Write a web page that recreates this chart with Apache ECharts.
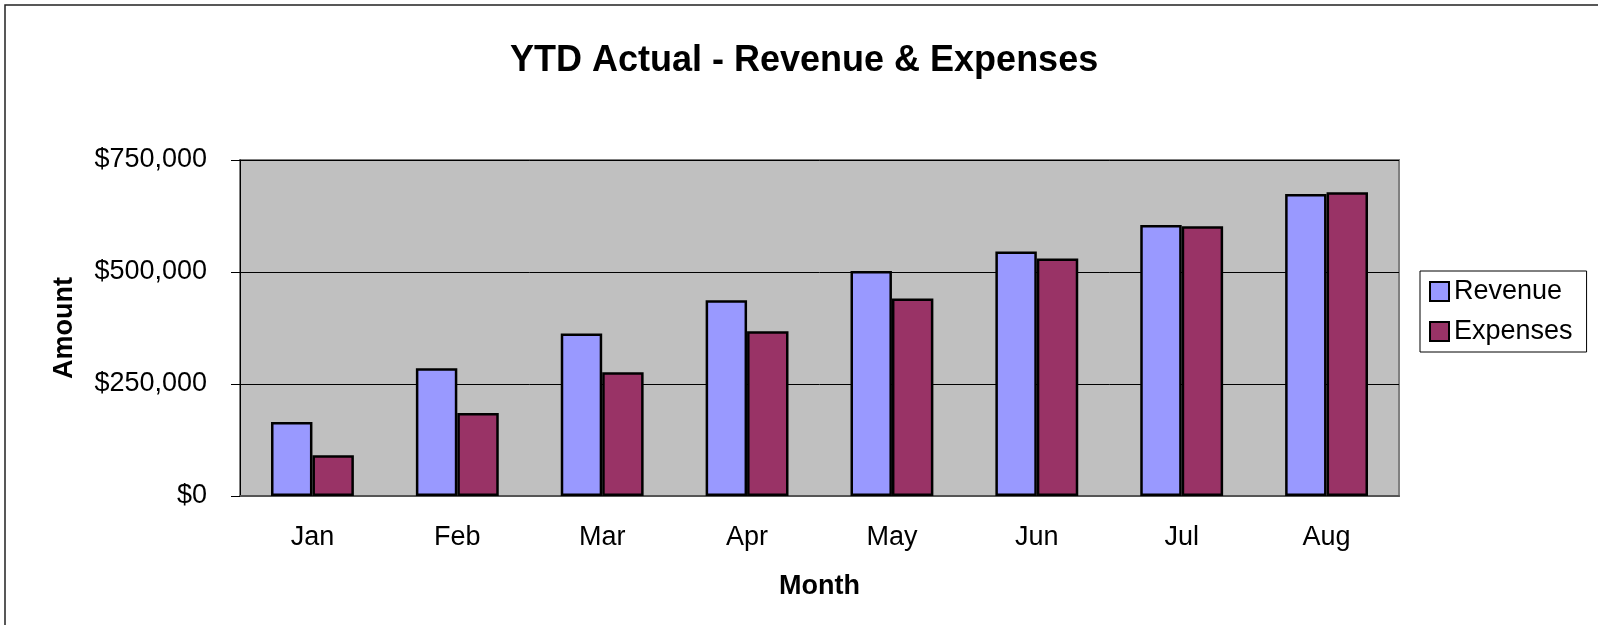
<!DOCTYPE html>
<html>
<head>
<meta charset="utf-8">
<script src="https://cdn.jsdelivr.net/npm/echarts@6/dist/echarts.min.js"></script>
<style>
  html, body { margin: 0; padding: 0; background: #fff; }
  #main { width: 1598px; height: 625px; }
</style>
</head>
<body>
<div id="main"></div>
<script>
const months = ["Jan", "Feb", "Mar", "Apr", "May", "Jun", "Jul", "Aug"];
const revenue = [165000, 285000, 363000, 437000, 502000, 546000, 605000, 674000];
const expenses = [91000, 185000, 276000, 368000, 441000, 530000, 602000, 678000];
const font = "'Liberation Sans', Arial, sans-serif";

const chart = echarts.init(document.getElementById("main"));

const option = {
  backgroundColor: "#fff",
  animation: false,
  title: {
    text: "YTD Actual - Revenue & Expenses",
    left: 510,
    top: 43,
    padding: 0,
    textStyle: { fontFamily: font, fontSize: 36, fontWeight: "bold", color: "#000" },
  },
  graphic: [
    {
      type: "rect",
      shape: { x: 5, y: 5, width: 1620, height: 640 },
      style: { fill: "none", stroke: "#222", lineWidth: 1.5 },
      silent: true,
    },
  ],
  legend: {
    orient: "vertical",
    left: 1420,
    top: 271,
    padding: [7, 14, 7, 9],
    itemGap: 13,
    itemWidth: 19,
    itemHeight: 19,
    icon: "rect",
    borderColor: "#000",
    borderWidth: 1,
    textStyle: { fontFamily: font, fontSize: 27, color: "#000" },
    data: ["Revenue", "Expenses"],
  },
  grid: {
    left: 240,
    top: 160,
    right: 199,
    bottom: 129,
    show: true,
    backgroundColor: "#C0C0C0",
    borderColor: "#808080",
    borderWidth: 2,
  },
  xAxis: {
    type: "category",
    data: months,
    name: "Month",
    nameLocation: "middle",
    nameGap: 77,
    nameTextStyle: { fontFamily: font, fontSize: 27, fontWeight: "bold", color: "#000" },
    axisLine: { lineStyle: { color: "#555", width: 2 } },
    axisTick: { length: 9, lineStyle: { color: "#000", width: 1 } },
    axisLabel: { margin: 28, fontFamily: font, fontSize: 27, color: "#000" },
  },
  yAxis: {
    type: "value",
    min: 0,
    max: 750000,
    interval: 250000,
    name: "Amount",
    nameLocation: "middle",
    nameRotate: 90,
    nameGap: 162,
    nameTextStyle: { fontFamily: font, fontSize: 27, fontWeight: "bold", color: "#000" },
    axisLine: { show: true, lineStyle: { color: "#000", width: 1 } },
    axisTick: { show: true, length: 9, lineStyle: { color: "#000", width: 1 } },
    axisLabel: {
      margin: 33,
      padding: [5, 0, 0, 0],
      fontFamily: font,
      fontSize: 27,
      color: "#000",
      formatter: (v) => "$" + v.toLocaleString("en-US"),
    },
    splitLine: { lineStyle: { color: "#000", width: 1 } },
  },
  series: [
    {
      name: "Revenue",
      type: "bar",
      data: revenue,
      barWidth: "28.6%",
      barGap: "0%",
      itemStyle: { color: "#9999FF", borderColor: "#000", borderWidth: 2.5 },
    },
    {
      name: "Expenses",
      type: "bar",
      data: expenses,
      barWidth: "28.6%",
      barGap: "0%",
      itemStyle: { color: "#993366", borderColor: "#000", borderWidth: 2.5 },
    },
  ],
};

chart.setOption(option);
</script>
</body>
</html>
